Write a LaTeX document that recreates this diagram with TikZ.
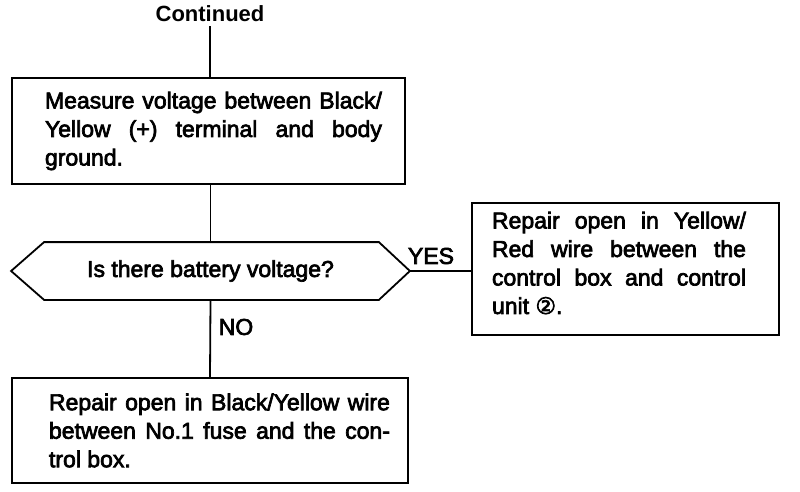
\documentclass[tikz,border=0pt]{standalone}
\usepackage{fontspec}
\setmainfont{Liberation Sans}
\newfontfamily\medfont[FakeBold=3]{Liberation Sans}
\newfontfamily\symfont[FakeBold=3]{DejaVu Sans}
\begin{document}
\begin{tikzpicture}[x=1pt,y=-1pt,line width=1.8pt,
  txt/.style={font=\medfont\fontsize{23}{28.5}\selectfont},
  stepbox/.style={draw,rectangle,inner sep=0pt,txt},
  hexnode/.style={rectangle,inner sep=0pt,txt}]
\useasboundingbox (0,0) rectangle (800,492);
\node[font=\fontsize{22}{26}\selectfont\bfseries] (cont) at (210,14) {Continued};
\node[stepbox,minimum width=393pt,minimum height=106pt] (m) at (208.5,131)
 {\hspace*{10pt}\parbox{337pt}{Measure voltage between Black/\linebreak Yellow (+) terminal and body\linebreak ground.}};
\node[hexnode,minimum width=397pt,minimum height=56pt] (q) at (210.5,271) {Is there battery voltage?};
\draw (q.west) -- ([xshift=33pt]q.north west) -- ([xshift=-31pt]q.north east) -- (q.east)
  -- ([xshift=-31pt]q.south east) -- ([xshift=33pt]q.south west) -- cycle;
\node[stepbox,minimum width=307pt,minimum height=132pt] (y) at (625.5,269)
 {\parbox{254pt}{Repair open in Yellow/\linebreak Red wire between the\linebreak control box and control\linebreak unit {\symfont\fontsize{23}{28.5}\selectfont ②}.\par\vspace{12pt}}\hspace*{13pt}};
\node[stepbox,minimum width=396pt,minimum height=105pt] (n) at (210,430.5)
 {\hspace*{19pt}\parbox{341pt}{Repair open in Black/Yellow wire\linebreak between No.1 fuse and the con-\linebreak trol box.}};
\node[txt] (yes) at (431,256) {YES};
\node[txt] (no) at (236,327) {NO};
\draw (cont.south) -- (m.north -| cont.south);
\draw (q.north) -- (q.north |- m.south);
\draw (q.east) -- (y.west |- q.east);
\draw (q.south) -- (n.north);
\end{tikzpicture}
\end{document}
